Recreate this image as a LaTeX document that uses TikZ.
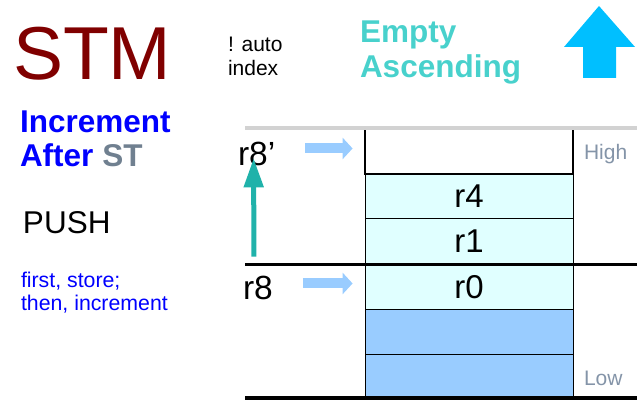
\documentclass[tikz,border=0pt]{standalone}
\usepackage{fontspec}
\setmainfont{Liberation Sans}
\usetikzlibrary{arrows.meta}
\definecolor{stmred}{HTML}{800000}
\definecolor{turq}{HTML}{48D1CC}
\definecolor{skyup}{HTML}{00BFFF}
\definecolor{cellcyan}{HTML}{E0FFFF}
\definecolor{cellblue}{HTML}{99CCFF}
\definecolor{slate}{HTML}{708090}
\definecolor{hilo}{HTML}{8494A8}
\definecolor{teal2}{HTML}{20B2AA}
\newcommand\fsz[1]{\fontsize{#1pt}{#1pt}\selectfont}
\begin{document}
\begin{tikzpicture}[x=1pt, y=-1pt, line join=miter,
	txt/.style={anchor=base west, inner sep=0pt, outer sep=0pt},
	cell/.style={draw=black, line width=0.8pt, minimum width=208pt, minimum height=45.5pt, inner sep=0pt, font=\fsz{33}},
	ptr/.style={cellblue, line width=10pt, -{Triangle[width=21pt, length=10pt]}},
	inc/.style={teal2, line width=5pt, -{Triangle[width=19pt, length=29pt]}}]
	\useasboundingbox (0,0) rectangle (637,401);
	
	% Tiêu đề bên trái
	\node[txt, text=stmred, font=\fsz{75}] (stm) at (13,80) {STM};
	\node[txt, font=\fsz{21}] (auto) at (228,52) {! auto};
	\node[txt, font=\fsz{21}] (index) at (228,76) {index};
	\node[txt, text=turq, font=\fsz{31.5}\bfseries] (empty) at (360,43) {Empty};
	\node[txt, text=turq, font=\fsz{31.5}\bfseries] (asc) at (360,78) {Ascending};
	\node[txt, text=blue, font=\fsz{31.5}\bfseries] (incr) at (20,133) {Increment};
	\node[txt, text=blue, font=\fsz{31.5}\bfseries] (after) at (20,167) {After \textcolor{slate}{ST}};
	\node[txt, font=\fsz{31.5}] (push) at (23,233) {PUSH};
	\node[txt, text=blue, font=\fsz{21.3}] (first) at (21,287) {first, store;};
	\node[txt, text=blue, font=\fsz{21.3}] (then) at (21,310) {then, increment};
	
	% Mũi tên lên
	\fill[skyup] (599,6) -- (635,47) -- (616,47) -- (616,78) -- (583,78) -- (583,47) -- (564,47) -- cycle;
	
	% Các ô của ngăn xếp
	\node[cell, draw=none] (top) at (469,150.5) {};
	\node[cell, fill=cellcyan] (r4) at (469,196) {r4};
	\node[cell, fill=cellcyan] (r1) at (469,241.5) {r1};
	\node[cell, fill=cellcyan] (r0) at (469,287) {r0};
	\node[cell, fill=cellblue] (b1) at (469,332.5) {};
	\node[cell, fill=cellblue] (b2) at (469,377) {};
	\draw[line width=2pt] (top.north west) -- (top.south west) -- (top.south east) -- (top.north east);
	
	% Các đường ngang
	\draw[gray!35, line width=4pt] (245,128) -- (637,128);
	\draw[line width=3.5pt] (245,264.5) -- (637,264.5);
	\draw[line width=4pt] (245,398) -- (637,398);
	
	% Nhãn thanh ghi
	\node[txt, font=\fsz{33.5}] (r8p) at (238,165) {r8’};
	\node[txt, font=\fsz{33.5}] (r8) at (243,299) {r8};
	\node[txt, text=hilo, font=\fsz{21}] (high) at (584,160) {High};
	\node[txt, text=hilo, font=\fsz{21}] (low) at (584,385) {Low};
	
	% Con trỏ
	\draw[ptr] ([xshift=30pt,yshift=5pt]r8p.east |- r8p.center) -- ([xshift=-12pt,yshift=5pt]r8p.center -| top.west);
	\draw[ptr] ([xshift=30pt,yshift=4pt]r8.east) -- ([xshift=-12pt,yshift=4pt]r8.east -| r0.west);
	\draw[inc] ([xshift=-4pt,yshift=19pt]r8.north) -- ([xshift=-3pt,yshift=7pt]r8p.south);
\end{tikzpicture}
\end{document}
